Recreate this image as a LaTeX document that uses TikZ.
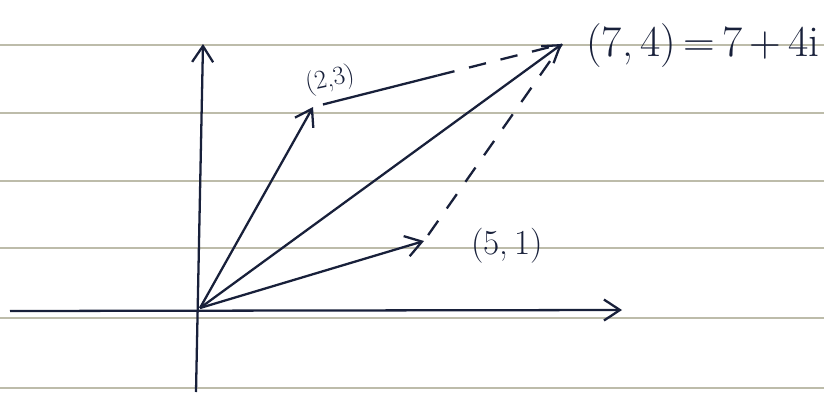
\documentclass[tikz,border=0pt]{standalone}
\usetikzlibrary{arrows.meta,calc}
\definecolor{ink}{HTML}{18203A}
\definecolor{ruling}{HTML}{BDBCAA}
\tikzset{vec/.style={ink,line width=1.3pt,-{Straight Barb[length=3.2mm,width=4.2mm]}},
  dashvec/.style={ink,line width=1.3pt,dash pattern=on 3.5mm off 3mm},
  lbl/.style={ink,inner sep=0pt,font=\fontsize{20}{22}\selectfont}}
\begin{document}
\begin{tikzpicture}[x=.02cm,y=-.02cm]
\useasboundingbox(0,0)rectangle(824,392);
\foreach\y in{45,113,181,248,318,388}\draw[ruling,line width=.7pt](0,\y)--(824,\y);
\coordinate(o)at(200,308);\coordinate(xw)at(10,311);\coordinate(xe)at(622,310);\coordinate(yn)at(203,44);\coordinate(ys)at(196,392);
\draw[vec](xw)--(xe);\draw[vec](ys)--(yn);
\coordinate(z1)at(313,107);\coordinate(z2)at(424,241);\coordinate(z)at(562,44);
\draw[vec](o)--(z1);\draw[vec](o)--(z2);\draw[vec](o)--(z);
\coordinate(m)at($(z1)!.5!(z)$);\draw[ink,line width=1.3pt]($(z1)!.04!(z)$)--(m);\draw[dashvec](m)--(z);
\draw[dashvec]($(z2)!.03!(z)$)--(z);
\node[lbl,rotate=12,font=\fontsize{15}{17}\selectfont](l1)at(330,80){(2,3)};
\node[lbl,anchor=west,font=\fontsize{25}{28}\selectfont](l)at(586,46){(7,\,4)\,=\,7\,+\,4i};
\node[lbl](l2)at(507,246){(5,\,1)};
\end{tikzpicture}
\end{document}
